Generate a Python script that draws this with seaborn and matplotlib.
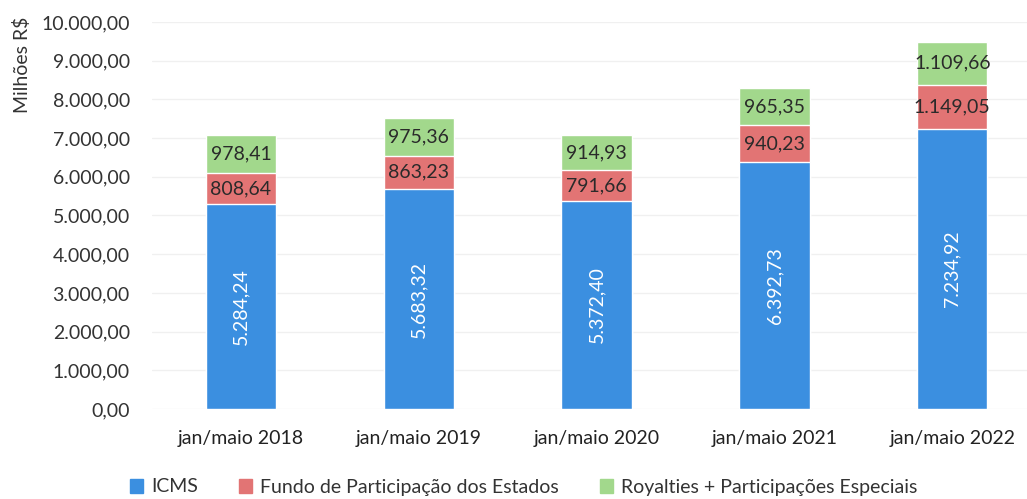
import pandas as pd
import matplotlib.pyplot as plt
import seaborn as sns
from matplotlib.ticker import FuncFormatter
from matplotlib.patches import Patch

periodos = ['jan/maio 2018', 'jan/maio 2019', 'jan/maio 2020', 'jan/maio 2021', 'jan/maio 2022']
icms = [5284.24, 5683.32, 5372.40, 6392.73, 7234.92]
fpe = [808.64, 863.23, 791.66, 940.23, 1149.05]
royalties = [978.41, 975.36, 914.93, 965.35, 1109.66]

cor_icms = '#3b8fe0'
cor_fpe = '#e27474'
cor_roy = '#a2d88c'


def br(v):
    # formato brasileiro 1.234,56
    s = f"{v:,.2f}"
    return s.replace(',', 'X').replace('.', ',').replace('X', '.')


df = pd.DataFrame({'periodo': periodos, 'icms': icms, 'fpe': fpe, 'roy': royalties})
df['base2'] = df['icms'] + df['fpe']
df['total'] = df['base2'] + df['roy']

sns.set_theme(style='white')
plt.rcParams['font.family'] = ['Lato', 'DejaVu Sans']

fig = plt.figure(figsize=(10.27, 4.99), dpi=100)
ax = fig.add_axes([152 / 1027, 90 / 499, 1 - 152 / 1027, 387 / 499])

# barras empilhadas: desenhar total, depois icms+fpe, depois icms
sns.barplot(data=df, x='periodo', y='total', color=cor_roy, width=0.395, saturation=1, ax=ax)
sns.barplot(data=df, x='periodo', y='base2', color=cor_fpe, width=0.395, saturation=1, ax=ax)
sns.barplot(data=df, x='periodo', y='icms', color=cor_icms, width=0.395, saturation=1, ax=ax)

for i, row in df.iterrows():
    ax.text(i, row['icms'] / 2, br(row['icms']), rotation=90, ha='center', va='center',
            color='white', fontsize=14)
    ax.text(i, row['icms'] + row['fpe'] / 2, br(row['fpe']), ha='center', va='center',
            color='#2a2a2a', fontsize=14)
    ax.text(i, row['base2'] + row['roy'] / 2, br(row['roy']), ha='center', va='center',
            color='#2a2a2a', fontsize=14)

ax.set_ylim(0, 10000)
ax.set_xlim(-0.5, 4.42)
ax.set_yticks(range(0, 10001, 1000))
ax.yaxis.set_major_formatter(FuncFormatter(lambda v, p: br(v)))
ax.tick_params(axis='y', labelsize=14, colors='#333333', pad=16, length=0)
ax.tick_params(axis='x', labelsize=14, colors='#222222', pad=15, length=0)
ax.set_xlabel('')
ax.set_ylabel('')
ax.yaxis.grid(True, color='#f0f0f0', linewidth=1)
ax.set_axisbelow(True)
for s in ax.spines.values():
    s.set_visible(False)

fig.text(22 / 1027, 1 - 65 / 499, 'Milhões R$', rotation=90, ha='center', va='center',
         fontsize=14, color='#333333')

handles = [Patch(color=cor_icms, label='ICMS'),
           Patch(color=cor_fpe, label='Fundo de Participação dos Estados'),
           Patch(color=cor_roy, label='Royalties + Participações Especiais')]
fig.legend(handles=handles, loc='center left', bbox_to_anchor=(112 / 1027, 1 - 487 / 499),
           ncol=3, frameon=False, fontsize=14, handlelength=0.7, handleheight=0.7,
           handletextpad=0.4, columnspacing=2.1, labelcolor='#333333')

fig.savefig('out.png', dpi=100)
